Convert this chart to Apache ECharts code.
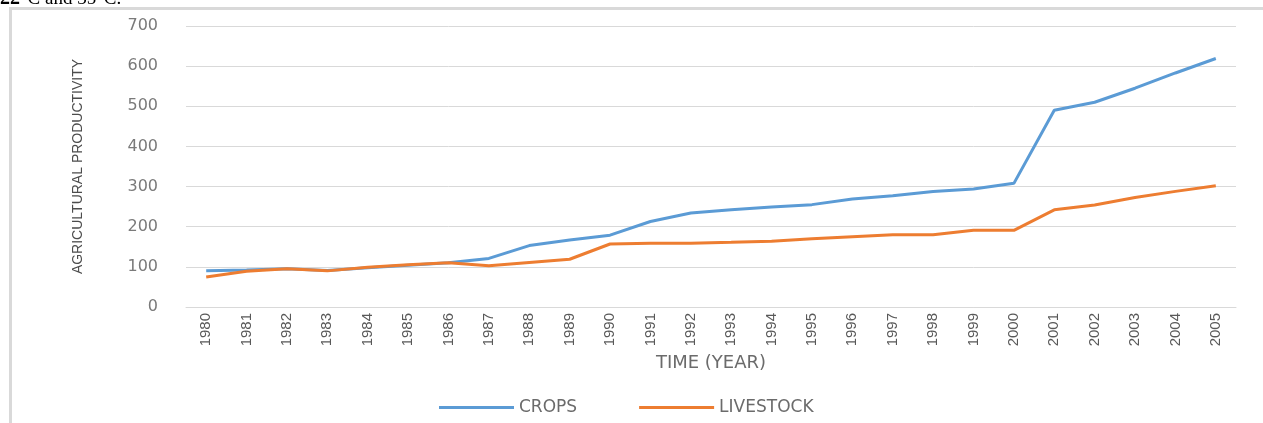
<!DOCTYPE html>
<html>
<head>
<meta charset="utf-8">
<script src="https://cdn.jsdelivr.net/npm/echarts@6/dist/echarts.min.js"></script>
<style>
html,body{margin:0;padding:0;background:#fff;}
#chart{width:1263px;height:423px;}
</style>
</head>
<body>
<div id="chart"></div>
<script>
const years = ['1980','1981','1982','1983','1984','1985','1986','1987','1988','1989','1990','1991','1992','1993','1994','1995','1996','1997','1998','1999','2000','2001','2002','2003','2004','2005'];
const crops = [90, 92, 95, 91, 98, 104, 110, 121, 153, 167, 179, 213, 234, 242, 249, 255, 269, 277, 288, 294, 308, 490, 510, 545, 583, 619];
const livestock = [75, 89, 95, 90, 99, 105, 110, 103, 111, 119, 157, 159, 159, 161, 164, 170, 175, 180, 180, 191, 191, 242, 254, 273, 288, 302];
const yTicks = {min: 0, max: 700, interval: 100};

const chart = echarts.init(document.getElementById('chart'), null, {renderer: 'canvas'});
chart.setOption({
  backgroundColor: '#ffffff',
  animation: false,
  graphic: [
    {
      type: 'rect', left: 8, top: 6, z: -1, silent: true,
      shape: {width: 1300, height: 460},
      style: {fill: 'none', stroke: '#d9d9d9', lineWidth: 3}
    },
    {
      type: 'text', left: 0, top: -11, silent: true,
      style: {
        text: '{b|22}°C and 35°C.',
        font: '19px "Liberation Serif"',
        fill: '#000',
        rich: {b: {fontFamily: 'Liberation Serif', fontWeight: 'bold', fontSize: 20, fill: '#000'}}
      }
    }
  ],
  grid: {left: 186, right: 27, top: 26, bottom: 116},
  legend: {
    data: ['CROPS', 'LIVESTOCK'],
    left: 434, top: 394,
    icon: 'rect', itemWidth: 75, itemHeight: 3, itemGap: 62,
    textStyle: {fontFamily: 'DejaVu Sans', fontSize: 17, color: '#6b6b6b'}
  },
  xAxis: {
    type: 'category',
    data: years,
    boundaryGap: true,
    axisLine: {show: true, lineStyle: {color: '#d9d9d9', width: 1}},
    axisTick: {show: false},
    axisLabel: {rotate: 90, margin: 6, interval: 0, fontFamily: 'Liberation Sans', fontSize: 15, color: '#595959'},
    name: 'TIME (YEAR)',
    nameLocation: 'middle',
    nameGap: 47,
    nameTextStyle: {fontFamily: 'DejaVu Sans', fontSize: 18, color: '#6b6b6b'}
  },
  yAxis: {
    type: 'value',
    min: yTicks.min, max: yTicks.max, interval: yTicks.interval,
    axisLine: {show: false},
    axisTick: {show: false},
    splitLine: {lineStyle: {color: '#d9d9d9', width: 1}},
    axisLabel: {margin: 28, fontFamily: 'DejaVu Sans', fontSize: 16, color: '#7a7a7a'},
    name: 'AGRICULTURAL PRODUCTIVITY',
    nameLocation: 'middle',
    nameRotate: 90,
    nameGap: 101,
    nameTextStyle: {fontFamily: 'Liberation Sans', fontSize: 14, color: '#4d4d4d'}
  },
  series: [
    {
      name: 'CROPS', type: 'line', data: crops,
      symbol: 'none', lineStyle: {color: '#5b9bd5', width: 3}, itemStyle: {color: '#5b9bd5'}
    },
    {
      name: 'LIVESTOCK', type: 'line', data: livestock,
      symbol: 'none', lineStyle: {color: '#ed7d31', width: 3}, itemStyle: {color: '#ed7d31'}
    }
  ]
});
</script>
</body>
</html>
